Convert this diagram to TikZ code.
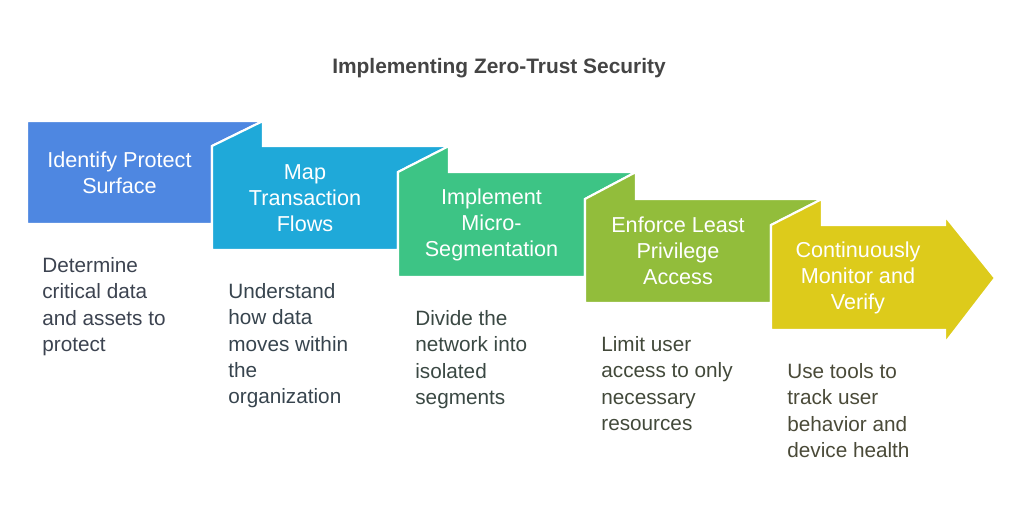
\documentclass[tikz,border=0pt]{standalone}
\usepackage{fontspec}
\setmainfont{Liberation Sans}
\definecolor{stepblue}{HTML}{4E87E1}
\definecolor{stepcyan}{HTML}{1FA9D9}
\definecolor{stepgreen}{HTML}{3DC485}
\definecolor{stepolive}{HTML}{92BD3B}
\definecolor{stepyellow}{HTML}{DDCB1B}
\definecolor{descblue}{HTML}{3C4350}
\definecolor{desccyan}{HTML}{37444E}
\definecolor{descgreen}{HTML}{3A4843}
\definecolor{descolive}{HTML}{42493A}
\definecolor{descyellow}{HTML}{4A4A38}
\definecolor{titletext}{HTML}{444444}
\begin{document}
\begin{tikzpicture}[x=0.02cm,y=-0.02cm,
	band/.style={draw=white,line width=1.2pt,line join=miter},
	bandtext/.style={text=white,align=center,font=\fontsize{12.3}{14.8}\selectfont},
	desc/.style={anchor=north west,inner sep=0pt,align=left,font=\fontsize{11.8}{15}\selectfont}]
		\useasboundingbox (0,0) rectangle (1024,518);
		\node (title) at (499, 68) [text=titletext,font=\fontsize{11.9}{14}\selectfont\bfseries] {Implementing Zero-Trust Security};
		% the five bands, each folded under the next
		\fill[band,fill=stepblue] (27,224)--(27,121)--(263,121)--(212,146)--(212,224)--cycle;
		\fill[band,fill=stepcyan] (212,250)--(212,146)--(263,121)--(263,146)--(449,146)--(398,172)--(398,250)--cycle;
		\fill[band,fill=stepgreen] (398,277)--(398,172)--(449,146)--(449,172)--(636,172)--(585,199)--(585,277)--cycle;
		\fill[band,fill=stepolive] (585,303)--(585,199)--(636,172)--(636,199)--(822,199)--(771,225)--(771,303)--cycle;
		\fill[band,fill=stepyellow] (771,330)--(771,225)--(822,199)--(822,225)--(945,225)--(945,216)--(995,278)--(945,343)--(945,330)--cycle;
		\node (identify) at (119.5, 172.5) [bandtext] {Identify Protect\\Surface};
		\node (map) at (305, 198) [bandtext] {Map\\Transaction\\Flows};
		\node (micro) at (491.5, 224.5) [bandtext] {Implement\\Micro-\\Segmentation};
		\node (least) at (678, 251) [bandtext] {Enforce Least\\Privilege\\Access};
		\node (monitor) at (858, 277.5) [bandtext] {Continuously\\Monitor and\\Verify};
		% what each band means
		\node (identifytxt) at (42, 257) [desc,text=descblue] {Determine\\critical data\\and assets to\\protect};
		\node (maptxt) at (228, 283) [desc,text=desccyan] {Understand\\how data\\moves within\\the\\organization};
		\node (microtxt) at (415, 310) [desc,text=descgreen] {Divide the\\network into\\isolated\\segments};
		\node (leasttxt) at (601, 336) [desc,text=descolive] {Limit user\\access to only\\necessary\\resources};
		\node (monitortxt) at (787, 363) [desc,text=descyellow] {Use tools to\\track user\\behavior and\\device health};
	\end{tikzpicture}
\end{document}
